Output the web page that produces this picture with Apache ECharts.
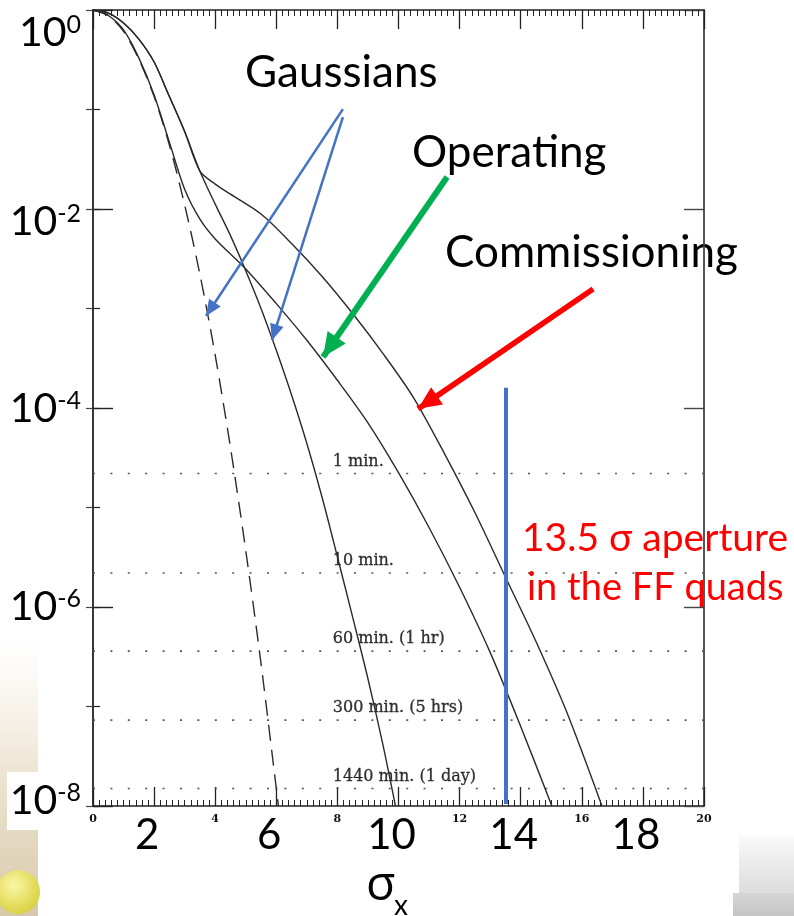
<!DOCTYPE html>
<html>
<head>
<meta charset="utf-8">
<script src="https://cdn.jsdelivr.net/npm/echarts@6/dist/echarts.min.js"></script>
<style>
  html, body { margin: 0; padding: 0; background: #fff; }
  #chart { width: 794px; height: 916px; }
</style>
</head>
<body>
<div id="chart"></div>
<script>
// Beam halo profiles: fraction of particles beyond a given sigma_x
const gaussNarrowX = [0, 0.5, 1, 1.5, 2, 2.5, 3, 3.5, 4, 4.5, 5, 5.5, 6, 6.07];
const gaussNarrowY = [1, 0.88, 0.61, 0.32, 0.135, 0.044, 0.011, 2.2e-3, 3.4e-4, 4.0e-5, 3.7e-6, 2.7e-7, 1.5e-8, 1.0e-8];

const gaussWideX = [0, 0.5, 1, 1.5, 2, 2.5, 3, 3.5, 4, 4.5, 5, 5.5, 6, 6.5, 7, 7.5, 8, 8.5, 9, 9.5, 9.9];
const gaussWideY = [1, 0.93, 0.74, 0.51, 0.30, 0.135, 0.060, 0.024, 0.0112, 5.4e-3, 2.4e-3, 1.0e-3, 3.8e-4, 1.35e-4, 4.4e-5, 1.26e-5, 3.2e-6, 7.9e-7, 1.9e-7, 4.0e-8, 1.0e-8];

const operatingX = [0, 0.5, 1, 1.5, 2, 2.5, 3, 3.5, 4, 5, 6, 7, 8, 9, 10, 11, 12, 13, 14, 15.02];
const operatingY = [1, 0.88, 0.63, 0.33, 0.14, 0.047, 0.0158, 7.9e-3, 5.0e-3, 2.5e-3, 1.12e-3, 4.8e-4, 1.9e-4, 7.1e-5, 2.24e-5, 6.3e-6, 1.58e-6, 3.5e-7, 6.3e-8, 1.0e-8];

const commissioningX = [0, 0.5, 1, 1.5, 2, 2.5, 3, 3.5, 4, 4.5, 5.5, 6.5, 7.5, 8.5, 9.5, 10.5, 11.5, 12.5, 13.5, 14.5, 15.5, 16.66];
const commissioningY = [1, 0.93, 0.74, 0.51, 0.30, 0.135, 0.060, 0.024, 0.0178, 0.0141, 8.9e-3, 4.5e-3, 2.1e-3, 8.9e-4, 3.5e-4, 1.26e-4, 3.5e-5, 8.9e-6, 2.0e-6, 4.5e-7, 8.9e-8, 1.0e-8];

// Loss-rate reference levels
const lossLevels = [2.2e-5, 2.2e-6, 3.6e-7, 7.3e-8, 1.5e-8];
const lossLabels = ['1 min.', '10 min.', '60 min. (1 hr)', '300 min. (5 hrs)', '1440 min. (1 day)'];

// Final-focus quadrupole aperture
const apertureSigma = 13.5;
const apertureSpan = [1.6e-4, 1.05e-8];

// Tick labels
const xSmallLabels = [0, 4, 8, 12, 16, 20];
const xLargeLabels = [2, 6, 10, 14, 18];
const yExponents = [0, -2, -4, -6, -8];

// Annotation arrows: [from, to] in (sigma_x, fraction)
const gaussArrows = [
  [[8.18, 0.101], [3.70, 8.4e-4]],
  [[8.18, 0.084], [5.86, 4.8e-4]]
];
const operatingArrow = [[11.59, 0.021], [7.53, 3.26e-4]];
const commissioningArrow = [[16.37, 1.57e-3], [10.64, 9.8e-5]];

const X_MIN = 0, X_MAX = 20;
const pairs = (xs, ys) => xs.map((x, i) => [x, ys[i]]);
const levelLabelX = 7.85;

const chart = echarts.init(document.getElementById('chart'), null, { renderer: 'canvas' });

const axisColor = '#222';
const curveColor = '#2a2a2a';
const sans = 'Lato, "Open Sans", sans-serif';

// decade labels: top padding inside a 60px line box nudges each label down
const yLabelPad = { '0': 32, '-2': 22, '-4': 10, '-6': 9, '-8': 4 };
const yRich = {};
yExponents.forEach(e => {
  const p = yLabelPad[String(e)];
  yRich['b' + (-e)] = { fontFamily: sans, fontSize: 41, lineHeight: 60, color: '#000', verticalAlign: 'top', padding: [p, 0, 0, 0] };
  yRich['s' + (-e)] = { fontFamily: sans, fontSize: 25, lineHeight: 60, color: '#000', verticalAlign: 'top', padding: [p, 0, 0, 0] };
});

function arrowLine(seg, color, width, head) {
  return [
    { coord: seg[0], symbol: 'none' },
    { coord: seg[1], symbol: 'triangle', symbolSize: head, symbolOffset: [0, head[1] / 2],
      lineStyle: { color: color, width: width, type: 'solid' } }
  ];
}

const levelSeries = lossLevels.map((v, i) => ({
  name: lossLabels[i], type: 'line', xAxisIndex: 0, yAxisIndex: 0,
  data: [[X_MIN, v], [X_MAX, v]], symbol: 'none', silent: true,
  lineStyle: { color: '#555', width: 1.6, type: [2, 15.4] }
}));

const option = {
  animation: false,
  backgroundColor: '#fff',
  grid: { left: 93, right: 90, top: 10, bottom: 110, containLabel: false, outerBoundsMode: 'none' },
  xAxis: [
    {
      type: 'value', min: X_MIN, max: X_MAX, interval: 2, position: 'bottom',
      axisLine: { show: true, onZero: false, lineStyle: { color: axisColor, width: 1.6 } },
      axisTick: { show: true, inside: true, length: 19, lineStyle: { color: axisColor, width: 1.3 } },
      minorTick: { show: true, splitNumber: 10, length: 6, lineStyle: { color: axisColor, width: 1 } },
      axisLabel: {
        show: true, margin: 8, color: '#111',
        fontFamily: 'DejaVu Serif', fontWeight: 'bold', fontSize: 11,
        showMinLabel: true, showMaxLabel: true,
        formatter: v => (xSmallLabels.includes(v) ? String(v) : '')
      },
      splitLine: { show: false }, minorSplitLine: { show: false }
    },
    {
      type: 'value', min: X_MIN, max: X_MAX, interval: 2, position: 'bottom',
      axisLine: { show: false }, axisTick: { show: false },
      axisLabel: {
        show: true, margin: 8, color: '#000',
        fontFamily: sans, fontSize: 42,
        padding: [0, 14, 0, 0],
        showMinLabel: true, showMaxLabel: true,
        formatter: v => (xLargeLabels.includes(v) ? String(v) : '')
      },
      splitLine: { show: false }
    },
    {
      type: 'value', min: X_MIN, max: X_MAX, interval: 2, position: 'top',
      axisLine: { show: true, onZero: false, lineStyle: { color: axisColor, width: 1.6 } },
      axisTick: { show: true, inside: true, length: 19, lineStyle: { color: axisColor, width: 1.3 } },
      minorTick: { show: true, splitNumber: 10, length: 6, lineStyle: { color: axisColor, width: 1 } },
      axisLabel: { show: false },
      splitLine: { show: false }
    }
  ],
  yAxis: [
    {
      type: 'log', logBase: 100, min: 1e-8, max: 1, splitNumber: 4, position: 'left',
      axisLine: { show: true, onZero: false, lineStyle: { color: axisColor, width: 1.8 } },
      axisTick: { show: true, inside: true, length: 20, lineStyle: { color: axisColor, width: 1.4 } },
      axisLabel: {
        show: true, margin: 12,
        showMinLabel: true, showMaxLabel: true,
        formatter: v => {
          const e = Math.round(Math.log10(v));
          return yExponents.includes(e) ? '{b' + (-e) + '|10}{s' + (-e) + '|' + e + '}' : '';
        },
        rich: yRich
      },
      splitLine: { show: false }
    },
    {
      type: 'log', logBase: 10, min: 1e-8, max: 1, splitNumber: 8, position: 'left',
      axisLine: { show: false },
      axisTick: { show: true, inside: true, length: 7, lineStyle: { color: axisColor, width: 1.2 } },
      axisLabel: { show: false }, splitLine: { show: false }
    },
    {
      type: 'log', logBase: 100, min: 1e-8, max: 1, splitNumber: 4, position: 'right',
      axisLine: { show: true, onZero: false, lineStyle: { color: '#444', width: 1.8 } },
      axisTick: { show: true, inside: true, length: 20, lineStyle: { color: '#444', width: 1.4 } },
      axisLabel: { show: false }, splitLine: { show: false }
    },
    {
      type: 'log', logBase: 10, min: 1e-8, max: 1, splitNumber: 8, position: 'right',
      axisLine: { show: false },
      axisTick: { show: true, inside: true, length: 7, lineStyle: { color: '#444', width: 1.2 } },
      axisLabel: { show: false }, splitLine: { show: false }
    }
  ],
  series: levelSeries.concat([
    {
      name: 'Gaussian (narrow)', type: 'line', xAxisIndex: 0, yAxisIndex: 0,
      data: pairs(gaussNarrowX, gaussNarrowY), showSymbol: false, symbol: 'none',
      smooth: 0.3, lineStyle: { color: curveColor, width: 1.4, type: [16, 9] }
    },
    {
      name: 'Gaussian (wide)', type: 'line', xAxisIndex: 0, yAxisIndex: 0,
      data: pairs(gaussWideX, gaussWideY), showSymbol: false, symbol: 'none',
      smooth: 0.3, lineStyle: { color: curveColor, width: 1.4 }
    },
    {
      name: 'Operating', type: 'line', xAxisIndex: 0, yAxisIndex: 0,
      data: pairs(operatingX, operatingY), showSymbol: false, symbol: 'none',
      smooth: 0.3, lineStyle: { color: curveColor, width: 1.4 }
    },
    {
      name: 'Commissioning', type: 'line', xAxisIndex: 0, yAxisIndex: 0,
      data: pairs(commissioningX, commissioningY), showSymbol: false, symbol: 'none',
      smooth: 0.3, lineStyle: { color: curveColor, width: 1.4 }
    },
    {
      name: 'Loss level labels', type: 'scatter', xAxisIndex: 0, yAxisIndex: 0,
      symbolSize: 0, silent: true,
      data: lossLevels.map((v, i) => ({ value: [levelLabelX, v], label: { formatter: lossLabels[i] } })),
      label: {
        show: true, position: 'right', distance: 0, offset: [0, -12],
        fontFamily: 'DejaVu Serif', fontSize: 16, color: '#000',
        textBorderColor: '#000', textBorderWidth: 0.3
      }
    },
    {
      name: 'Annotations', type: 'line', xAxisIndex: 0, yAxisIndex: 0, data: [],
      markLine: {
        silent: true, symbol: 'none', label: { show: false },
        lineStyle: { type: 'solid' },
        data: [
          [
            { coord: [apertureSigma, apertureSpan[0]], lineStyle: { color: '#4472C4', width: 4, type: 'solid' } },
            { coord: [apertureSigma, apertureSpan[1]] }
          ],
          arrowLine(gaussArrows[0], '#4472C4', 2.5, [14, 16]),
          arrowLine(gaussArrows[1], '#4472C4', 2.5, [14, 16]),
          arrowLine(operatingArrow, '#00B050', 6, [22, 24]),
          arrowLine(commissioningArrow, '#FF0000', 5.5, [21, 23])
        ]
      }
    }
  ]),
  graphic: [
    // slide background bits at the bottom corners
    { type: 'rect', z: -10, shape: { x: 0, y: 640, width: 38, height: 276 },
      style: { fill: new echarts.graphic.LinearGradient(0, 0, 0, 1, [
        { offset: 0, color: 'rgba(240,232,215,0)' },
        { offset: 0.5, color: 'rgba(232,220,196,0.8)' },
        { offset: 1, color: 'rgba(214,200,170,1)' }]) } },
    { type: 'circle', z: -9, shape: { cx: 18, cy: 892, r: 22 },
      style: { fill: new echarts.graphic.RadialGradient(0.4, 0.35, 0.7, [
        { offset: 0, color: '#fbf7a8' }, { offset: 1, color: '#d8cf3a' }]) } },
    { type: 'rect', z: -8, shape: { x: 7, y: 772, width: 32, height: 58 }, style: { fill: '#fff' } },
    { type: 'rect', z: -10, shape: { x: 739, y: 835, width: 55, height: 58 },
      style: { fill: new echarts.graphic.LinearGradient(0, 0, 0, 1, [
        { offset: 0, color: '#fafafa' }, { offset: 1, color: '#dcdcdc' }]) } },
    { type: 'rect', z: -10, shape: { x: 733, y: 893, width: 61, height: 23 },
      style: { fill: new echarts.graphic.LinearGradient(0, 0, 0, 1, [
        { offset: 0, color: '#d6d6d6' }, { offset: 1, color: '#c4c4c4' }]) } },

    { type: 'text', style: { text: 'Gaussians', x: 245, y: 73, font: '44px Lato', fill: '#000', verticalAlign: 'middle', textVerticalAlign: 'middle' } },
    { type: 'text', style: { text: 'Operating', x: 412, y: 153, font: '44px Lato', fill: '#000', verticalAlign: 'middle', textVerticalAlign: 'middle' } },
    { type: 'text', style: { text: 'Commissioning', x: 445, y: 253, font: '44px Lato', fill: '#000', verticalAlign: 'middle', textVerticalAlign: 'middle' } },
    { type: 'text', style: { text: '13.5 σ aperture', x: 522, y: 538, font: '39px Lato, "Open Sans"', fill: '#FF0000', verticalAlign: 'middle', textVerticalAlign: 'middle' } },
    { type: 'text', style: { text: 'in the FF quads', x: 527, y: 588, font: '38px Lato, "Open Sans"', fill: '#FF0000', verticalAlign: 'middle', textVerticalAlign: 'middle' } },
    { type: 'text', style: { text: 'σ', x: 366, y: 886, font: '48px "Open Sans", Lato', fill: '#000', verticalAlign: 'middle', textVerticalAlign: 'middle' } },
    { type: 'text', style: { text: 'x', x: 394, y: 906, font: '28px Lato, "Open Sans"', fill: '#000', verticalAlign: 'middle', textVerticalAlign: 'middle' } }
  ]
};

chart.setOption(option);
</script>
</body>
</html>
